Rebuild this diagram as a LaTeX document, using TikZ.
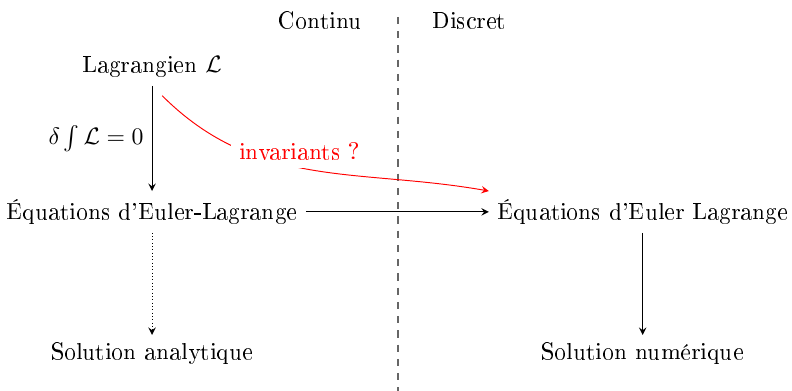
\documentclass[tikz,border=0pt]{standalone}
\usepackage[T1]{fontenc}
\usepackage{amsmath,amssymb}
\usepackage{tikz}
\usetikzlibrary{calc,positioning}

\begin{document}
\begin{tikzpicture}[
    label/.style={align=center},
    arrow/.style={->, >=stealth},
    separation/.style={dashed, black!60, semithick}
]
    \useasboundingbox (-2.25,-2.65) rectangle (9.47,3.136);
    % Nodes
    \node [label] (eqc) at (0,0) {\'Equations d'Euler-Lagrange};
    \node [label] (lag) at (0,2.145) {Lagrangien $\mathcal{L}$};
    \node [label] (sola) at (0,-2.10) {Solution analytique};
    \node [label] (eqd) at (7.26,0) {\'Equations d'Euler Lagrange};
    \node [label] (soln) at (7.26,-2.10) {Solution num\'erique};
    \node [label] (cont) at (2.49,2.84) {Continu};
    \node [label] (disc) at (4.69,2.84) {Discret};
    \coordinate (haut) at (3.64,2.885);
    \coordinate (bas) at (3.64,-2.65);
    \coordinate (dep) at (0.15,1.72);

    % Paths
    \draw [separation] (haut) -- (bas);
    \draw [arrow] (lag) -- node[left] {$\delta\int\mathcal{L}=0$} (eqc);
    \draw [arrow, densely dotted] (eqc) -- (sola);
    \draw [arrow] (eqc) -- (eqd);
    \draw [arrow] (eqd) -- (soln);
    \draw [arrow, red] (dep) to[out=-45, in=170] node[pos=0.42, fill=white, xshift=5.5pt, yshift=5.5pt] {invariants ?} (eqd.north west);
\end{tikzpicture}
\end{document}
